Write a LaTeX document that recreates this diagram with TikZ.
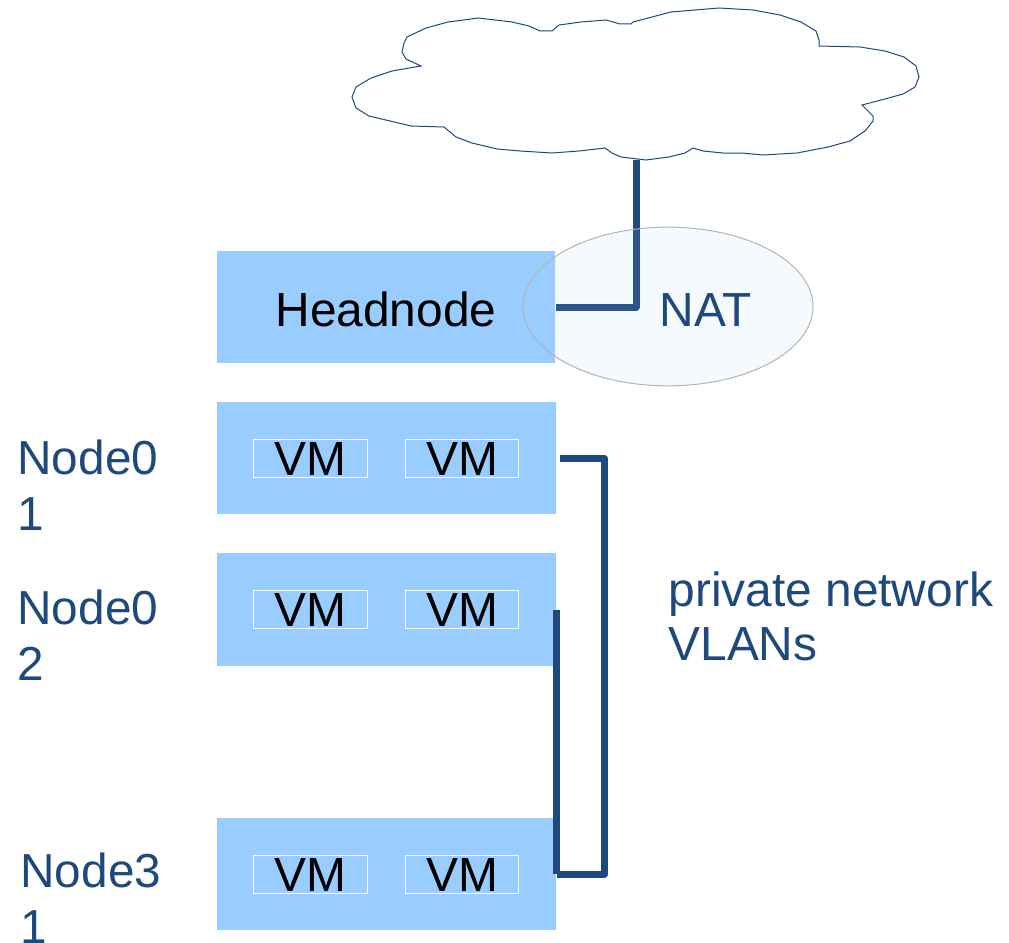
\documentclass[tikz,border=0pt]{standalone}
\usepackage{fontspec}
\setmainfont{Liberation Sans}
\usetikzlibrary{shapes.geometric}
\definecolor{boxblue}{HTML}{99CCFF}
\definecolor{netblue}{HTML}{1F497D}
\tikzset{every picture/.style={line width=0.75pt}}
\tikzset{
  hostbox/.style={fill=boxblue,inner sep=0pt,minimum width=254pt,minimum height=84.5pt,text=black},
  vmbox/.style={draw=white,line width=0.75pt,inner sep=0pt,minimum width=85pt,minimum height=28.5pt,text height=26pt,text depth=0pt,text=black,font=\fontsize{35.9pt}{40pt}\selectfont},
  netline/.style={draw=netblue,line width=5.25pt,line join=round},
  bluetext/.style={anchor=north west,inner sep=0.75pt,align=left,text=netblue,font=\fontsize{35.8pt}{42pt}\selectfont}
}
\begin{document}
\begin{tikzpicture}[x=0.75pt,y=0.75pt,yscale=-1,xscale=1]
                  \useasboundingbox (0,0) rectangle (1009,942);

                  %Shape: Cloud
                  \draw [draw=netblue,fill=white,line width=0.75pt] (407,37) -- (426,28) -- (448,22) -- (478.5,18) -- (512,22) -- (529,26) -- (540,31) -- (552,31) -- (559,25) -- (581,22) -- (606,20) -- (620,24) -- (631,24) -- (633,22) -- (671,12) -- (719,8) -- (753,10) -- (780,15) -- (801,22) -- (816,31) -- (819,40) -- (819,46) -- (860,47) -- (885,51) -- (904,57) -- (916,66) -- (919,77) -- (915,87) -- (903,94) -- (885,99) -- (862,105) -- (873,116) -- (873,121) -- (865,131) -- (850,141) -- (828,147) -- (797,153) -- (763,155) -- (742,153) -- (723,153) -- (703,151) -- (693,148) -- (685,153) -- (669,157) -- (646,160) -- (621,157) -- (612,153) -- (605,148) -- (579,151) -- (552,153) -- (520,151) -- (497,149) -- (472,143) -- (456,137) -- (444,127) -- (411,126) -- (390,121) -- (369,116) -- (356,108) -- (352,97) -- (356,87) -- (371,78) -- (392,71) -- (421,66) -- (406,59) -- (402,52) -- (404,43) -- cycle ;
                  \coordinate (cloudfoot) at (636,160);

                  %Hosts
                  \node (headnode) [hostbox,text height=28.5pt,text depth=0pt,font=\fontsize{35.9pt}{40pt}\selectfont] at (386,307) {Headnode};
                  \node (node01) [hostbox] at (386.5,458) {};
                  \node (node02) [hostbox] at (386.5,609.5) {};
                  \node (node31) [hostbox] at (386.5,874) {};

                  %VMs
                  \foreach \hostname in {node01,node02,node31} {
                    \node (\hostname a) [vmbox] at ([xshift=-57pt]\hostname.center) {VM};
                    \node (\hostname b) [vmbox] at ([xshift=56.6pt]\hostname.center) {VM};
                  }

                  %Straight Lines
                  \draw [netline] (headnode.east) -| (cloudfoot) ;

                  %Shape: Ellipse
                  \node (nat) [ellipse,draw={rgb, 255:red, 179; green, 179; blue, 179 },fill=boxblue,fill opacity=0.1,minimum width=217.5pt,minimum height=119pt,inner sep=0pt] at (668,306.5) {};
                  \node (nattext) [text=netblue,inner sep=0pt,text height=28.5pt,text depth=0pt,font=\fontsize{35.9pt}{40pt}\selectfont] at (706,307) {NAT};

                  %Private network
                  \coordinate (vlanin) at (560,458.5);
                  \coordinate (vlanout) at (556.5,874);
                  \coordinate (vlantop) at (556.5,609.5);
                  \draw [netline] (vlanin) -- (604.5,458.5) -- (604.5,874) -- (vlanout) ;
                  \draw [netline] (vlantop) -- (vlanout) ;

                  % Text Node
                  \node (label01) [bluetext] at (16,438) {Node0\\1};
                  % Text Node
                  \node (label02) [bluetext] at (16,588) {Node0\\2};
                  % Text Node
                  \node (label31) [bluetext] at (19,851) {Node3\\1};
                  % Text Node
                  \node (labelvlan) [bluetext,font=\fontsize{35.9pt}{40.5pt}\selectfont] at (667,570) {private network\\VLANs};
\end{tikzpicture}
\end{document}
